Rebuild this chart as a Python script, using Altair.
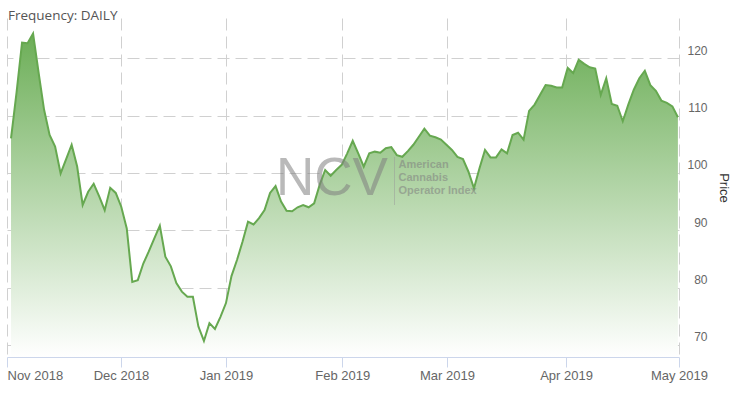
import json
import altair as alt
import pandas as pd

# ---- data (one value per trading day, Nov 2018 -> May 2019)
prices = [
    106.0, 114.0, 122.7, 122.6, 124.3, 117.5, 111.0, 106.6, 104.6, 99.9,
    102.4, 104.9, 101.1, 94.4, 96.7, 98.1, 95.9, 93.5, 97.4, 96.5,
    94.1, 90.3, 81.0, 81.3, 84.2, 86.3, 88.6, 90.8, 85.4, 83.7,
    80.8, 79.3, 78.4, 78.4, 73.2, 70.7, 73.8, 72.8, 74.9, 77.3,
    82.0, 84.8, 88.0, 91.5, 91.0, 92.1, 93.5, 96.5, 97.7, 95.0,
    93.4, 93.3, 94.0, 94.4, 94.0, 94.7, 97.9, 100.5, 99.5, 100.5,
    101.4, 103.4, 105.6, 103.4, 101.1, 103.4, 103.7, 103.5, 104.3, 104.5,
    103.1, 102.8, 103.8, 104.9, 106.3, 107.7, 106.5, 106.2, 105.8, 104.9,
    104.0, 102.8, 102.4, 100.2, 97.3, 100.8, 104.0, 102.7, 102.7, 104.1,
    103.4, 106.6, 107.0, 105.8, 110.8, 111.9, 113.6, 115.3, 115.2, 114.9,
    114.9, 118.3, 117.4, 119.7, 119.0, 118.4, 118.2, 113.6, 116.5, 112.0,
    111.7, 109.0, 111.9, 114.5, 116.5, 117.8, 115.3, 114.3, 112.6, 112.2,
    111.6, 109.7,
]
tick_pos = [-0.73, 19.96, 39.0, 60.1, 79.1, 100.7, 121.2]
tick_labels = ["Nov 2018", "Dec 2018", "Jan 2019", "Feb 2019", "Mar 2019", "Apr 2019", "May 2019"]
y_ticks = [70, 80, 90, 100, 110, 120]
y_domain = [67.9, 127.0]

df = pd.DataFrame({"t": list(range(len(prices))), "price": prices,
                   "base": [y_domain[0]] * len(prices)})

W, H = 672, 339
GRID = "#d0d0d0"
AXIS_LINE = "#ccd6eb"

label_expr = f"{json.dumps(tick_labels)}[indexof({json.dumps(tick_pos)}, datum.value)]"

x_enc = alt.X(
    "t:Q",
    scale=alt.Scale(domain=[tick_pos[0], tick_pos[-1]], nice=False, zero=False),
    axis=alt.Axis(
        values=tick_pos, labelExpr=label_expr, title=None,
        grid=True, gridDash=[12, 6], gridColor=GRID, gridWidth=1,
        domainColor=AXIS_LINE, tickColor=AXIS_LINE, tickSize=10,
        labelPadding=2, labelFontSize=13, labelColor="#666666",
        labelFont="Liberation Sans", labelFlush=False, labelOverlap=False,
        labelBound=False,
        labelAlign={"condition": {"test": "datum.value < 0", "value": "left"}, "value": "center"},
    ),
)
y_enc = alt.Y(
    "price:Q",
    scale=alt.Scale(domain=y_domain, nice=False, zero=False),
    axis=alt.Axis(
        orient="right", values=y_ticks, title="Price",
        grid=True, gridDash=[12, 6], gridColor=GRID, gridWidth=1,
        domain=False, ticks=False, tickSize=0,
        labelAlign="right", labelPadding=28, labelOffset=-8,
        labelFontSize=12, labelColor="#666666", labelFont="Liberation Sans",
        titleAngle=90, titleX=44, titleY=H / 2, titleAlign="center",
        titleBaseline="middle", titleFontSize=13, titleFontWeight="normal",
        titleColor="#333333", titleFont="Liberation Sans",
    ),
)

gradient = alt.Gradient(
    gradient="linear",
    stops=[alt.GradientStop(color="#6cae57", offset=0),
           alt.GradientStop(color="#ffffff", offset=1)],
    x1=0, x2=0, y1=0, y2=1,
)

base = alt.Chart(df)
area = base.mark_area(color=gradient).encode(x=x_enc, y=y_enc, y2="base:Q")
line = base.mark_line(color="#66a850", strokeWidth=2).encode(x=x_enc, y=y_enc)

one = pd.DataFrame({"a": [0]})
title_txt = alt.Chart(one).mark_text(
    text="Frequency: DAILY", align="left", baseline="alphabetic",
    font="Open Sans", fontSize=13.5, color="#555555",
).encode(x=alt.value(1), y=alt.value(1.5))

wm_big = alt.Chart(one).mark_text(
    text="NCV", align="center", baseline="alphabetic",
    font="Liberation Sans", fontSize=53, color="#808080", opacity=0.55,
).encode(x=alt.value(325), y=alt.value(177))

wm_sep = alt.Chart(one).mark_rule(color="#9a9a9a", opacity=0.5, strokeWidth=1).encode(
    x=alt.value(387.5), y=alt.value(139), y2=alt.value(187)
)

wm_lines = ["American", "Cannabis", "Operator Index"]
wm_small = [
    alt.Chart(one).mark_text(
        text=t, align="left", baseline="alphabetic", font="Liberation Sans",
        fontSize=11, fontWeight="bold", color="#808080", opacity=0.55,
    ).encode(x=alt.value(391.5), y=alt.value(149.5 + 13.3 * i))
    for i, t in enumerate(wm_lines)
]

chart = alt.layer(area, line, wm_big, wm_sep, *wm_small, title_txt).properties(
    width=W, height=H,
    padding={"left": 7, "top": 18, "right": 59, "bottom": 39},
    autosize=alt.AutoSizeParams(type="none"),
).configure_view(strokeWidth=0)

chart.save("out.html", embed_options={"renderer": "svg", "actions": False})
